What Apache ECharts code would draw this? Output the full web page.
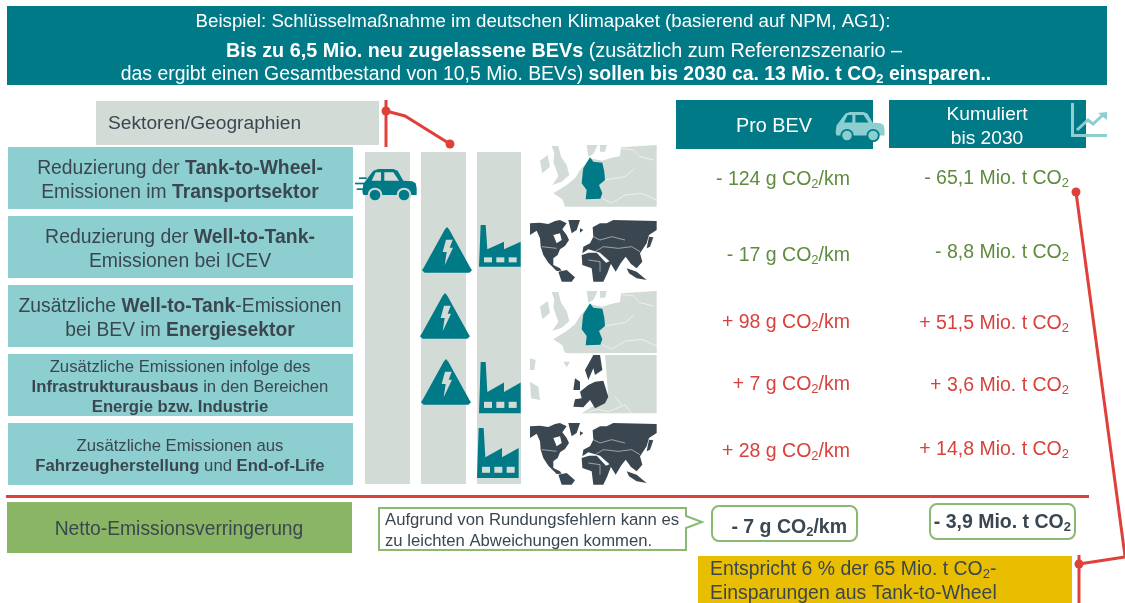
<!DOCTYPE html>
<html>
<head>
<meta charset="utf-8">
<style>html,body{margin:0;background:#fff}#main{width:1125px;height:603px}#main canvas{filter:blur(.35px)}</style>
<script src="https://cdn.jsdelivr.net/npm/echarts@6/dist/echarts.min.js"></script>
</head>
<body>
<div id="main"></div>
<script>
// data
const rowLabels = [
  'Reduzierung der {b|Tank-to-Wheel-}\nEmissionen im {b|Transportsektor}',
  'Reduzierung der {b|Well-to-Tank-}\nEmissionen bei ICEV',
  'Zusätzliche {b|Well-to-Tank}-Emissionen\nbei BEV im {b|Energiesektor}',
  'Zusätzliche Emissionen infolge des\n{b|Infrastrukturausbaus} in den Bereichen\n{b|Energie bzw. Industrie}',
  'Zusätzliche Emissionen aus\n{b|Fahrzeugherstellung} und {b|End-of-Life}'
]
const proBev = [-124, -17, 98, 7, 28]
const kumuliert = [-65.1, -8.8, 51.5, 3.6, 14.8]
const nettoProBev = -7
const nettoKumuliert = -3.9

// layout, in px
const rowFont = [19.3, 19.4, 19.3, 16.7, 16.7]
const rowLine = [24, 24, 24, 20, 20]
const rowNudge = [3, 3, 3, 2, 2]
const proNudge = [2, 9, 7, 0, -2]
const kumNudge = [1, 6, 8, 1, -4]

const TEAL = '#007a87', LIGHT = '#8dcfd0', GREY = '#d2dbd5', RED = '#e0403a'
const INK = '#3a4750', GREEN = '#5f8b3f', FONT = '"Liberation Sans", Arial, sans-serif'
const subStyle = size => ({ fontSize: size, padding: [Math.round(size * 0.7), 0, 0, 0] })

const sign = v => (v < 0 ? '- ' : '+ ')
const de = (v, d) => Math.abs(v).toFixed(d).replace('.', ',')

function text(x, y, str, size, fill, align, lh, extra) {
  return {
    type: 'text', z: 20,
    style: Object.assign({
      x: x, y: y, text: str, fill: fill, fontSize: size, fontFamily: FONT,
      align: align || 'center', verticalAlign: 'middle', lineHeight: lh || size + 4,
      rich: {
        n: { fontSize: size, lineHeight: lh || size + 4 },
        b: { fontSize: size, fontWeight: 'bold', lineHeight: lh || size + 4 },
        s: subStyle(Math.round(size * 0.65)),
        bs: Object.assign({ fontWeight: 'bold' }, subStyle(Math.round(size * 0.65)))
      }
    }, extra || {})
  }
}
function rect(x, y, w, h, fill, z, extra) {
  return Object.assign({ type: 'rect', z: z || 1, shape: { x: x, y: y, width: w, height: h }, style: { fill: fill } }, extra || {})
}
// shapes are noted in crop pixels, so ox/oy/s put them on the page
function poly(pts, ox, oy, s, fill, z) {
  return { type: 'polygon', z: z || 10, shape: { points: pts.map(p => [ox + p[0] * s, oy + p[1] * s]) }, style: { fill: fill } }
}
function streak(pts, ox, oy, col) {
  return { type: 'polyline', z: 12, shape: { points: pts.map(p => [ox + p[0] / 3, oy + p[1] / 3]) }, style: { stroke: col, lineWidth: 0.6, fill: null } }
}
function dot(x, y, r) {
  return { type: 'circle', z: 15, shape: { cx: x, cy: y, r: r }, style: { fill: RED } }
}
function line(pts, w) {
  return { type: 'polyline', z: 15, shape: { points: pts }, style: { stroke: RED, lineWidth: w, fill: null } }
}

function car(ox, oy, s, col, hole, speed) {
  const out = [
    poly([[25,72],[45,45],[55,32],[70,27],[115,27],[128,32],[145,62],[172,64],[182,70],[185,85],[185,105],[25,105],[22,95]], ox, oy, s, col),
    poly([[50,62],[62,37],[78,37],[78,62]], ox, oy, s, hole, 11),
    poly([[88,37],[115,37],[132,62],[88,62]], ox, oy, s, hole, 11)
  ]
  ;[[60, 105], [147, 105]].forEach(c => {
    out.push({ type: 'circle', z: 11, shape: { cx: ox + c[0] * s, cy: oy + c[1] * s, r: 22 * s }, style: { fill: hole } })
    out.push({ type: 'circle', z: 12, shape: { cx: ox + c[0] * s, cy: oy + c[1] * s, r: 16 * s }, style: { fill: col } })
  })
  if (speed) {
    out.push(rect(ox + 12 * s, oy + 52 * s, 23 * s, 5 * s, col, 10))
    out.push(rect(ox, oy + 68 * s, 30 * s, 5 * s, col, 10))
    out.push(rect(ox + 5 * s, oy + 85 * s, 25 * s, 5 * s, col, 10))
  }
  return out
}
function bolt(ox, oy, s) {
  return [
    poly([[68,8],[75,0],[82,8],[145,122],[150,130],[142,137],[8,137],[0,130],[5,122]], ox, oy, s, TEAL),
    poly([[72,38],[92,38],[83,62],[93,62],[68,115],[74,75],[62,75]], ox, oy, s, GREY, 11)
  ]
}
function factory(ox, oy, sx, sy) {
  const out = [{ type: 'polygon', z: 10, shape: { points: [[5,0],[20,0],[25,73],[75,50],[75,73],[125,50],[125,125],[0,125]].map(p => [ox + p[0] * sx, oy + p[1] * sy]) }, style: { fill: TEAL } }]
  ;[15, 52, 89].forEach(x => out.push(rect(ox + x * sx, oy + 97 * sy, 24 * sx, 15 * sy, GREY, 11)))
  return out
}
const germanyLand = [
  [[85,160],[125,135],[150,115],[165,90],[178,75],[195,55],[232,62],[255,55],[285,48],[288,22],[395,15],[395,200],[120,200],[112,178]],
  [[80,18],[100,18],[108,50],[125,75],[133,105],[110,125],[82,135],[100,108],[92,85],[85,65],[88,40]],
  [[45,62],[68,45],[75,80],[52,100]],
  [[185,15],[218,15],[205,42],[190,50]],
  [[225,15],[245,15],[240,35],[225,35]]
]
const germanyShape = [[195,52],[205,65],[232,68],[238,95],[240,120],[222,135],[232,160],[226,176],[182,178],[185,150],[170,130],[173,100],[175,85]]
function germany(ox, oy) {
  return germanyLand.map(p => poly(p, ox, oy, 1 / 3, GREY, 10)).concat(
    [poly(germanyShape, ox, oy, 1 / 3, TEAL, 11)],
    streak([[232,175],[260,190],[300,165],[350,160],[395,180]], ox, oy, '#fff'),
    streak([[290,25],[325,30],[345,50],[385,60]], ox, oy, '#fff'),
    streak([[240,120],[300,110],[330,85]], ox, oy, '#fff')
  )
}
// crop y starts at 240 for the world map
const worldLand = [
  [[15,250],[45,248],[70,252],[90,243],[105,240],[125,250],[112,268],[125,285],[132,300],[120,318],[105,328],[98,345],[85,355],[85,375],[105,385],[110,392],[95,393],[70,368],[55,345],[47,320],[45,295],[35,272],[15,285]],
  [[130,240],[165,240],[155,270],[140,280]],
  [[165,265],[175,270],[165,278]],
  [[100,395],[125,390],[150,412],[140,425],[110,425]],
  [[205,290],[203,262],[225,250],[245,250],[265,240],[395,243],[395,270],[372,285],[365,310],[345,340],[352,365],[335,385],[318,372],[302,350],[288,368],[272,395],[252,362],[240,352],[225,338],[190,328],[172,340],[175,320],[195,310]],
  [[170,345],[192,338],[215,338],[243,368],[262,360],[247,400],[235,425],[205,425],[200,385],[172,375]],
  [[305,385],[335,395],[365,420],[335,415],[312,400]],
  [[372,290],[385,292],[375,320],[365,325]]
]
function world(ox, oy) {
  const out = worldLand.map(p => poly(p, ox, oy, 1 / 3, INK, 10))
  out.push(poly([[85,285],[105,280],[110,300],[95,310]], ox, oy, 1 / 3, '#fff', 11))
  out.push(streak([[210,335],[235,320],[280,325],[320,320],[345,335]], ox, oy, '#dfe3e3'))
  out.push(streak([[205,290],[225,300],[260,290],[300,300]], ox, oy, '#dfe3e3'))
  out.push(streak([[190,360],[225,365],[225,395]], ox, oy, '#dfe3e3'))
  out.push(streak([[50,320],[95,325]], ox, oy, '#dfe3e3'))
  return out
}
const europeGrey = [
  [[240,15],[395,15],[395,190],[170,190],[250,140]],
  [[115,35],[135,35],[125,52]],
  [[15,25],[32,30],[28,60],[15,60]],
  [[15,95],[40,110],[45,150],[18,145]],
  [[115,0],[395,0],[395,8],[130,10]]
]
const europeDark = [
  [[205,15],[225,15],[232,60],[210,75],[205,55],[190,90],[180,60]],
  [[165,125],[190,105],[210,95],[235,92],[250,140],[240,160],[210,175],[195,150],[175,172],[145,170],[150,148],[170,145]],
  [[150,85],[165,95],[165,120],[145,120]]
]
function europe(ox, oy) {
  return europeGrey.map(p => poly(p, ox, oy, 1 / 3, GREY, 10)).concat(
    europeDark.map(p => poly(p, ox, oy, 1 / 3, INK, 11)),
    streak([[190,185],[220,178],[250,185],[300,165],[320,190]], ox, oy, '#fff'),
    streak([[270,140],[290,165]], ox, oy, '#fff')
  )
}

const elements = [
  rect(7, 6, 1100, 79, TEAL),
  text(543, 22, 'Beispiel: Schlüsselmaßnahme im deutschen Klimapaket (basierend auf NPM, AG1):', 18.7, '#fff'),
  text(564, 52, '{b|Bis zu 6,5 Mio. neu zugelassene BEVs} (zusätzlich zum Referenzszenario –', 19.8, '#fff'),
  text(556, 75, 'das ergibt einen Gesamtbestand von 10,5 Mio. BEVs) {b|sollen bis 2030 ca. 13 Mio. t CO}{bs|2}{b| einsparen..}', 19.4, '#fff'),

  rect(96, 101, 283, 44, GREY),
  text(108, 124, 'Sektoren/Geographien', 19.2, INK, 'left'),
  rect(365, 152, 45, 332, GREY),
  rect(421, 152, 45, 332, GREY),
  rect(477, 152, 44, 332, GREY),

  rect(676, 100, 197, 49, TEAL),
  text(774, 127, 'Pro BEV', 19.8, '#fff'),
  rect(889, 100, 197, 48, TEAL),
  text(987, 127, 'Kumuliert\nbis 2030', 19.2, '#fff', 'center', 24),

  rect(6, 495, 1083, 3, RED, 5),
  rect(7, 502, 345, 51, '#8ab565'),
  text(179, 530, 'Netto-Emissionsverringerung', 19.3, INK),
  { type: 'polygon', z: 3, shape: { points: [[379, 508], [686, 508], [686, 516], [702, 522], [686, 528], [686, 550], [379, 550]] }, style: { fill: '#fff', stroke: '#8ab972', lineWidth: 2 } },
  text(385, 531, 'Aufgrund von Rundungsfehlern kann es\nzu leichten Abweichungen kommen.', 16.7, INK, 'left', 21),
  { type: 'rect', z: 3, shape: { x: 712, y: 506, width: 145, height: 35, r: 7 }, style: { fill: '#fff', stroke: '#8ab972', lineWidth: 2 } },
  text(847, 528, '{b|' + sign(nettoProBev) + de(nettoProBev, 0) + ' g CO}{bs|2}{b|/km}', 19.5, INK, 'right'),
  { type: 'rect', z: 3, shape: { x: 930, y: 504, width: 145, height: 35, r: 7 }, style: { fill: '#fff', stroke: '#8ab972', lineWidth: 2 } },
  text(1071, 523, '{b|' + sign(nettoKumuliert) + de(nettoKumuliert, 1) + ' Mio. t CO}{bs|2}', 19.5, INK, 'right'),
  rect(698, 556, 374, 47, '#e9bd00'),
  text(710, 582, 'Entspricht 6 % der 65 Mio. t CO{s|2}-\nEinsparungen aus Tank-to-Wheel', 19.4, INK, 'left', 24),

  line([[386, 100], [386, 147]], 3),
  line([[386, 111], [405, 116], [450, 144]], 3),
  dot(386, 111, 4.5), dot(450, 144, 4.5),
  line([[1076, 192], [1125, 556]], 3),
  line([[1079, 555], [1079, 603]], 3),
  line([[1079, 564], [1125, 557]], 3),
  dot(1076, 192, 4.5), dot(1079, 564, 4.5),

  // trend icon in the header
  rect(1071, 103, 3, 34, LIGHT, 12),
  rect(1071, 134, 36, 3, LIGHT, 12),
  { type: 'polyline', z: 12, shape: { points: [[1077, 130], [1088, 120], [1093, 124], [1104, 114]] }, style: { stroke: LIGHT, lineWidth: 3, fill: null } },
  { type: 'polygon', z: 12, shape: { points: [[1098, 113], [1107, 112], [1107, 120]] }, style: { fill: LIGHT } }
].concat(
  car(829, 104, 0.3, LIGHT, TEAL),
  car(355, 160, 1 / 3, TEAL, GREY, true),
  bolt(422, 227, 1 / 3), bolt(420, 293, 1 / 3), bolt(421, 359, 1 / 3),
  factory(479, 225, 1 / 3, 1 / 3), factory(479, 362, 1 / 3, 0.41), factory(477, 428, 1 / 3, 0.4),
  germany(525, 140), world(525, 140), germany(525, 286), europe(525, 350), world(525, 343)
)

const chart = echarts.init(document.getElementById('main'))
chart.setOption({
  animation: false,
  backgroundColor: '#fff',
  graphic: { elements: elements },
  grid: { left: 0, right: 0, top: 143.5, height: 345 },
  xAxis: { type: 'value', min: 0, max: 1125, show: false },
  yAxis: { type: 'category', inverse: true, show: false, data: rowLabels },
  series: [{
    type: 'custom',
    coordinateSystem: 'cartesian2d',
    silent: true,
    encode: { x: 0, y: 1 },
    data: rowLabels.map((l, i) => [0, i]),
    renderItem: function (params, api) {
      const i = api.value(1)
      const c = api.coord([180, i])
      const h = api.size([0, 1])[1] - 7
      const pro = api.coord([850, i])
      const kum = api.coord([1069, i])
      const colour = v => (v < 0 ? GREEN : '#d8413c')
      return {
        type: 'group',
        children: [
          { type: 'rect', shape: { x: 8, y: c[1] - h / 2, width: 345, height: h }, style: { fill: LIGHT } },
          text(c[0], c[1] + rowNudge[i], rowLabels[i], rowFont[i], INK, 'center', rowLine[i]),
          text(pro[0], pro[1] + proNudge[i], sign(proBev[i]) + de(proBev[i], 0) + ' g CO{s|2}/km', 19.5, colour(proBev[i]), 'right'),
          text(kum[0], kum[1] + kumNudge[i], sign(kumuliert[i]) + de(kumuliert[i], 1) + ' Mio. t CO{s|2}', 19.5, colour(kumuliert[i]), 'right')
        ]
      }
    }
  }]
})
</script>
</body>
</html>
